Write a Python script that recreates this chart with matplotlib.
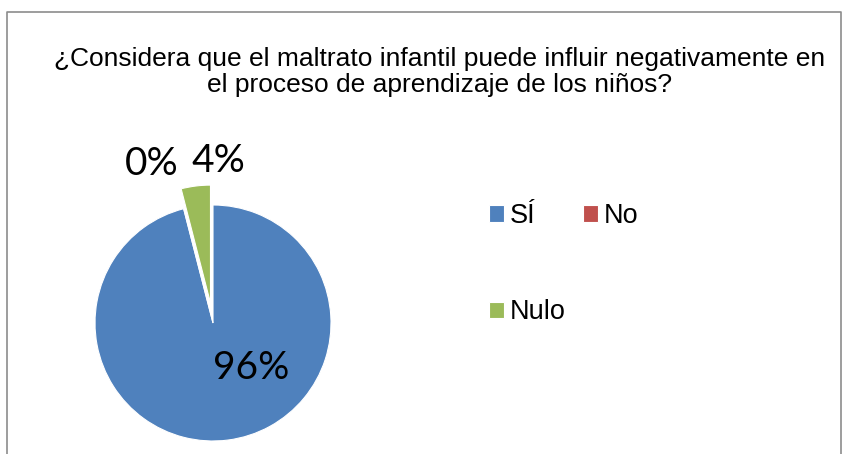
import matplotlib
matplotlib.use("Agg")
import matplotlib.pyplot as plt
from matplotlib.lines import Line2D

categories = ["SÍ", "No", "Nulo"]
values = [96, 0, 4]
colors = ["#4F81BD", "#C0504D", "#9BBB59"]
title = "¿Considera que el maltrato infantil puede influir negativamente en\nel proceso de aprendizaje de los niños?"

plt.rcParams['font.family'] = ['Liberation Sans', 'DejaVu Sans']

W, H = 844, 454
fig = plt.figure(figsize=(W/100, H/100), dpi=100)

# border
fig.add_artist(Line2D([7/W, 7/W, 841/W, 841/W], [-0.1, 1-12/H, 1-12/H, -0.1],
                      transform=fig.transFigure, color="#8c8c8c", lw=1.2))

fig.text(440/W, 1-72/H, title, ha="center", va="center", fontsize=19, linespacing=1.1)

cx, cy, r = 213, 323, 118
ext = 1.5
ax = fig.add_axes([(cx - r*ext)/W, (H - cy - r*ext)/H, 2*r*ext/W, 2*r*ext/H])

wedges, _ = ax.pie(values, colors=colors, startangle=90, counterclock=False,
                   explode=[0, 0, 0.17], radius=1,
                   wedgeprops=dict(edgecolor="white", linewidth=0.8))
ax.set_xlim(-ext, ext)
ax.set_ylim(-ext, ext)
ax.set_aspect("equal")
ax.axis("off")

label_pos = [(0.32, -0.385), (-0.52, 1.35), (0.05, 1.37)]
for v, (x, y) in zip(values, label_pos):
    ax.text(x, y, f"{v}%", ha="center", va="center", fontsize=28,
            family=["Lato", "DejaVu Sans"])

# legend in row-major order
order = [0, 2, 1]
leg = fig.legend([wedges[i] for i in order], [categories[i] for i in order],
                 ncol=2, loc="upper left", bbox_to_anchor=(489/W, 1-203/H),
                 frameon=False, fontsize=19.5, handlelength=0.56, handleheight=0.56,
                 handletextpad=0.19, columnspacing=0.66, labelspacing=2.6,
                 borderpad=0, borderaxespad=0)

fig.savefig("out.png", dpi=100)
